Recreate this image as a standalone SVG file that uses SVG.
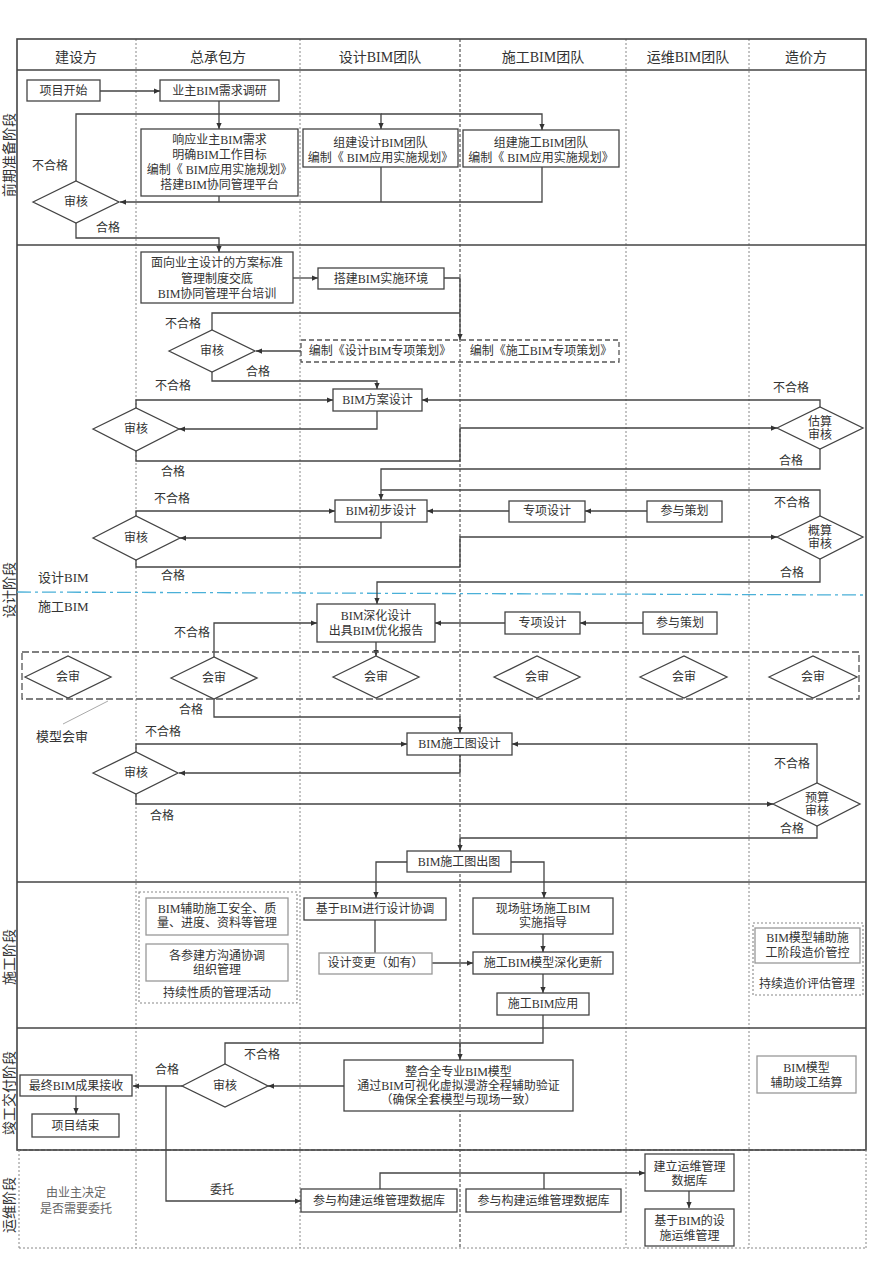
<svg xmlns="http://www.w3.org/2000/svg" width="869" height="1280" viewBox="0 0 869 1280">
<defs>
<marker id="a" viewBox="0 0 8 8" refX="8" refY="4" markerWidth="6" markerHeight="6" orient="auto" markerUnits="userSpaceOnUse"><path d="M0,0.5 L8,4 L0,7.5 z" fill="#333"/></marker>
<style>
text{font-family:"Liberation Serif","Noto Sans CJK SC",serif;fill:#333;font-size:12px;text-anchor:middle}
.h{font-size:14px}
.ph{font-size:14px}
.lb{font-size:12px}
.g{fill:#666}
.b{fill:#fff;stroke:#444;stroke-width:1.3}
.gb{fill:#fff;stroke:#999;stroke-width:1.3}
.db{fill:none;stroke:#555;stroke-width:1.3;stroke-dasharray:5,3}
.fd{fill:none;stroke:#888;stroke-width:1.1;stroke-dasharray:2,2}
.d{fill:#fff;stroke:#444;stroke-width:1.3}
.c path{fill:none;stroke:#444;stroke-width:1.3}
.col{stroke:#888;stroke-width:1;stroke-dasharray:2,2}
.ln{stroke:#444;stroke-width:1.6}
</style>
</defs>
<rect width="869" height="1280" fill="#fff"/>

<g id="frame">
<line class="col" x1="136" y1="39" x2="136" y2="1248"/>
<line class="col" x1="300" y1="39" x2="300" y2="1248"/>
<line x1="460" y1="39" x2="460" y2="1248" stroke="#555" stroke-width="1.2" stroke-dasharray="3,2"/>
<line class="col" x1="626" y1="39" x2="626" y2="1248"/>
<line class="col" x1="749" y1="39" x2="749" y2="1248"/>
<rect x="17" y="39" width="849" height="1111" fill="none" stroke="#444" stroke-width="1.6"/>
<line class="ln" x1="17" y1="70" x2="866" y2="70"/>
<line class="ln" x1="17" y1="245" x2="866" y2="245"/>
<line class="ln" x1="17" y1="882" x2="866" y2="882"/>
<line class="ln" x1="17" y1="1028" x2="866" y2="1028"/>
<line x1="17" y1="1150" x2="866" y2="1150" stroke="#555" stroke-width="1.6" stroke-dasharray="4,2"/>
<line class="col" x1="19" y1="1150" x2="19" y2="1248"/>
<line class="col" x1="866" y1="1150" x2="866" y2="1248"/>
<line class="col" x1="19" y1="1248" x2="866" y2="1248"/>
<line x1="17" y1="592" x2="866" y2="595" stroke="#4ab0d8" stroke-width="1.3" stroke-dasharray="14,4,3,4"/>
</g>

<g id="headers">
<text class="h" x="76" y="62">建设方</text>
<text class="h" x="218" y="62">总承包方</text>
<text class="h" x="380" y="62">设计BIM团队</text>
<text class="h" x="543" y="62">施工BIM团队</text>
<text class="h" x="688" y="62">运维BIM团队</text>
<text class="h" x="806" y="62">造价方</text>
</g>

<g id="phases">
<text class="ph" transform="translate(14,155) rotate(-90)">前期准备阶段</text>
<text class="ph" transform="translate(14,590) rotate(-90)">设计阶段</text>
<text class="ph" transform="translate(14,957) rotate(-90)">施工阶段</text>
<text class="ph" transform="translate(14,1093) rotate(-90)">竣工交付阶段</text>
<text class="ph" transform="translate(14,1205) rotate(-90)">运维阶段</text>
</g>

<g class="c" id="connectors">
<path d="M100,91 H160" marker-end="url(#a)"/>
<path d="M219,101 V129" marker-end="url(#a)"/>
<path d="M76,181 V114 H381 V129" marker-end="url(#a)"/>
<path d="M381,114 H542 V130" marker-end="url(#a)"/>
<path d="M542,167 V202 H120" marker-end="url(#a)"/>
<path d="M381,167 V202"/>
<path d="M219,196 V202"/>
<path d="M76,223 V238 H219 V252" marker-end="url(#a)"/>
<path d="M293,278 H318" marker-end="url(#a)"/>
<path d="M444,278 H460 V340" marker-end="url(#a)"/>
<path d="M212,330 V313 H460"/>
<path d="M301,351 H256" marker-end="url(#a)"/>
<path d="M212,372 V381 H377 V389" marker-end="url(#a)"/>
<path d="M136,408 V400 H333" marker-end="url(#a)"/>
<path d="M377,411 V429 H179" marker-end="url(#a)"/>
<path d="M136,451 V461 H460 V428 H777" marker-end="url(#a)"/>
<path d="M820,407 V400 H422" marker-end="url(#a)"/>
<path d="M820,449 V469 H381 V500" marker-end="url(#a)"/>
<path d="M820,516 V490 H381"/>
<path d="M509,511 H427" marker-end="url(#a)"/>
<path d="M647,511 H585" marker-end="url(#a)"/>
<path d="M136,516 V511 H335" marker-end="url(#a)"/>
<path d="M381,522 V538 H180" marker-end="url(#a)"/>
<path d="M136,560 V567 H460 V537 H777" marker-end="url(#a)"/>
<path d="M820,559 V582 H377 V604" marker-end="url(#a)"/>
<path d="M643,623 H580" marker-end="url(#a)"/>
<path d="M505,623 H435" marker-end="url(#a)"/>
<path d="M214,657 V623 H317" marker-end="url(#a)"/>
<path d="M376,642 V656" marker-end="url(#a)"/>
<path d="M214,699 V717 H460 V733" marker-end="url(#a)"/>
<path d="M136,752 V744 H407" marker-end="url(#a)"/>
<path d="M460,755 V773 H179" marker-end="url(#a)"/>
<path d="M136,794 V804 H773" marker-end="url(#a)"/>
<path d="M817,783 V744 H512" marker-end="url(#a)"/>
<path d="M817,826 V838 H460 V851" marker-end="url(#a)"/>
<path d="M407,862 H376 V898" marker-end="url(#a)"/>
<path d="M511,862 H544 V898" marker-end="url(#a)"/>
<path d="M375,920 V953"/>
<path d="M432,963 H473" marker-end="url(#a)"/>
<path d="M543,934 V952" marker-end="url(#a)"/>
<path d="M543,974 V993" marker-end="url(#a)"/>
<path d="M225,1064 V1043 H543 V1015"/>
<path d="M460,1043 V1060" marker-end="url(#a)"/>
<path d="M344,1086 H268" marker-end="url(#a)"/>
<path d="M182,1086 H133" marker-end="url(#a)"/>
<path d="M76,1096 V1114" marker-end="url(#a)"/>
<path d="M166,1086 V1201 H301" marker-end="url(#a)"/>
<path d="M380,1189 V1173 H645" marker-end="url(#a)"/>
<path d="M544,1189 V1173"/>
<path d="M689,1191 V1208" marker-end="url(#a)"/>
<path d="M63,724 L108,701" style="stroke:#aaa;stroke-width:1"/>
</g>

<g id="n-start"><rect class="b" x="27" y="80" width="73" height="21"/><text x="63.5" y="95">项目开始</text></g>
<g id="n-survey"><rect class="b" x="160" y="80" width="119" height="21"/><text x="219.5" y="95">业主BIM需求调研</text></g>
<g id="n-respond"><rect class="b" x="141" y="129" width="157" height="67"/><text x="219.5" y="144">响应业主BIM需求<tspan x="219.5" dy="15">明确BIM工作目标</tspan><tspan x="219.5" dy="15">编制《 BIM应用实施规划》</tspan><tspan x="219.5" dy="15">搭建BIM协同管理平台</tspan></text></g>
<g id="n-design-team"><rect class="b" x="303" y="129" width="155" height="38"/><text x="380.5" y="147">组建设计BIM团队<tspan x="380.5" dy="15">编制《 BIM应用实施规划》</tspan></text></g>
<g id="n-build-team"><rect class="b" x="463" y="130" width="156" height="37"/><text x="541" y="147">组建施工BIM团队<tspan x="541" dy="15">编制《 BIM应用实施规划》</tspan></text></g>
<g id="n-review1"><polygon class="d" points="33,202 76,181 119,202 76,223"/><text x="76" y="206">审核</text></g>

<g id="n-standard"><rect class="b" x="141" y="252" width="152" height="51"/><text x="217" y="267">面向业主设计的方案标准<tspan x="217" dy="15.5">管理制度交底</tspan><tspan x="217" dy="15.5">BIM协同管理平台培训</tspan></text></g>
<g id="n-env"><rect class="b" x="318" y="268" width="126" height="21"/><text x="381" y="283">搭建BIM实施环境</text></g>
<g id="n-plan"><rect class="db" x="301" y="340" width="318" height="22"/><text x="380" y="355">编制《设计BIM专项策划》</text><text x="541" y="355">编制《施工BIM专项策划》</text></g>
<g id="n-review2"><polygon class="d" points="169,351 212,330 255,351 212,372"/><text x="212" y="355">审核</text></g>
<g id="n-scheme"><rect class="b" x="333" y="389" width="89" height="22"/><text x="377.5" y="404">BIM方案设计</text></g>
<g id="n-review3"><polygon class="d" points="93,429 136,408 179,429 136,451"/><text x="136" y="433">审核</text></g>
<g id="n-estimate"><polygon class="d" points="777,428 820,407 863,428 820,449"/><text x="820" y="426">估算<tspan x="820" dy="13">审核</tspan></text></g>
<g id="n-prelim"><rect class="b" x="335" y="500" width="92" height="22"/><text x="381" y="515">BIM初步设计</text></g>
<g id="n-special1"><rect class="b" x="509" y="501" width="76" height="21"/><text x="547" y="515">专项设计</text></g>
<g id="n-join1"><rect class="b" x="647" y="501" width="75" height="21"/><text x="684.5" y="515">参与策划</text></g>
<g id="n-review4"><polygon class="d" points="93,538 136,516 180,538 136,560"/><text x="136" y="542">审核</text></g>
<g id="n-budget1"><polygon class="d" points="777,537 820,516 863,537 820,559"/><text x="820" y="535">概算<tspan x="820" dy="13">审核</tspan></text></g>

<g id="n-deep"><rect class="b" x="317" y="604" width="118" height="38"/><text x="376" y="620">BIM深化设计<tspan x="376" dy="15">出具BIM优化报告</tspan></text></g>
<g id="n-special2"><rect class="b" x="505" y="612" width="75" height="22"/><text x="542.5" y="627">专项设计</text></g>
<g id="n-join2"><rect class="b" x="643" y="612" width="74" height="22"/><text x="680" y="627">参与策划</text></g>
<g id="n-joint-review"><rect class="db" x="22" y="652" width="837" height="47" style="stroke-dasharray:7,3"/>
<polygon class="d" points="25,677 68,656 111,677 68,698"/><text x="68" y="681">会审</text>
<polygon class="d" points="171,678 214,657 257,678 214,699"/><text x="214" y="682">会审</text>
<polygon class="d" points="333,677 376,656 419,677 376,698"/><text x="376" y="681">会审</text>
<polygon class="d" points="494,677 537,656 580,677 537,698"/><text x="537" y="681">会审</text>
<polygon class="d" points="640,677 684,656 727,677 684,698"/><text x="684" y="681">会审</text>
<polygon class="d" points="769,677 813,656 857,677 813,698"/><text x="813" y="681">会审</text>
</g>
<g id="n-cd"><rect class="b" x="407" y="733" width="105" height="22"/><text x="459.5" y="748">BIM施工图设计</text></g>
<g id="n-review5"><polygon class="d" points="93,773 136,752 178,773 136,794"/><text x="136" y="777">审核</text></g>
<g id="n-budget2"><polygon class="d" points="773,804 817,783 860,804 817,826"/><text x="817" y="802">预算<tspan x="817" dy="13">审核</tspan></text></g>
<g id="n-cdout"><rect class="b" x="407" y="851" width="104" height="21"/><text x="459" y="866">BIM施工图出图</text></g>

<g id="n-gc-mgmt"><rect class="fd" x="139" y="892" width="158" height="111"/>
<rect class="gb" x="146" y="898" width="142" height="37"/><text x="217" y="913">BIM辅助施工安全、质<tspan x="217" dy="14">量、进度、资料等管理</tspan></text>
<rect class="gb" x="146" y="944" width="142" height="37"/><text x="217" y="960">各参建方沟通协调<tspan x="217" dy="14">组织管理</tspan></text>
<text x="217" y="997">持续性质的管理活动</text></g>
<g id="n-coord"><rect class="b" x="304" y="898" width="142" height="22"/><text x="375" y="913">基于BIM进行设计协调</text></g>
<g id="n-change"><rect class="gb" x="319" y="953" width="113" height="21"/><text x="375.5" y="967">设计变更（如有）</text></g>
<g id="n-site"><rect class="b" x="473" y="898" width="140" height="36"/><text x="543" y="913">现场驻场施工BIM<tspan x="543" dy="14">实施指导</tspan></text></g>
<g id="n-update"><rect class="b" x="473" y="952" width="140" height="22"/><text x="543" y="967">施工BIM模型深化更新</text></g>
<g id="n-apply"><rect class="b" x="497" y="993" width="92" height="22"/><text x="543" y="1008">施工BIM应用</text></g>
<g id="n-cost-ctrl"><rect class="fd" x="753" y="923" width="110" height="72"/>
<rect class="gb" x="755" y="928" width="105" height="35"/><text x="807.5" y="942">BIM模型辅助施<tspan x="807.5" dy="15">工阶段造价管控</tspan></text>
<text x="807" y="988">持续造价评估管理</text></g>

<g id="n-integrate"><rect class="b" x="344" y="1060" width="229" height="51"/><text x="458.5" y="1076">整合全专业BIM模型<tspan x="458.5" dy="14">通过BIM可视化虚拟漫游全程辅助验证</tspan><tspan x="458.5" dy="14">（确保全套模型与现场一致）</tspan></text></g>
<g id="n-review6"><polygon class="d" points="182,1086 225,1064 268,1086 225,1107"/><text x="225" y="1090">审核</text></g>
<g id="n-final"><rect class="b" x="20" y="1075" width="112" height="21"/><text x="76" y="1090">最终BIM成果接收</text></g>
<g id="n-end"><rect class="b" x="32" y="1114" width="87" height="23"/><text x="75.5" y="1130">项目结束</text></g>
<g id="n-settle"><rect class="gb" x="757" y="1056" width="99" height="37"/><text x="806.5" y="1072">BIM模型<tspan x="806.5" dy="15">辅助竣工结算</tspan></text></g>

<g id="n-owner"><text class="g" x="76" y="1197">由业主决定<tspan x="76" dy="16">是否需要委托</tspan></text></g>
<g id="n-db1"><rect class="b" x="301" y="1189" width="156" height="23"/><text x="379" y="1205">参与构建运维管理数据库</text></g>
<g id="n-db2"><rect class="b" x="466" y="1189" width="155" height="23"/><text x="543.5" y="1205">参与构建运维管理数据库</text></g>
<g id="n-db"><rect class="b" x="645" y="1154" width="89" height="37"/><text x="689.5" y="1171">建立运维管理<tspan x="689.5" dy="14">数据库</tspan></text></g>
<g id="n-om"><rect class="b" x="645" y="1209" width="89" height="37"/><text x="689.5" y="1225">基于BIM的设<tspan x="689.5" dy="15">施运维管理</tspan></text></g>

<g id="labels">
<text x="50" y="170">不合格</text><text x="108" y="232">合格</text>
<text x="183" y="328">不合格</text><text x="258" y="376">合格</text>
<text x="173" y="390">不合格</text><text x="173" y="476">合格</text>
<text x="791" y="392">不合格</text><text x="791" y="465">合格</text>
<text x="172" y="503">不合格</text><text x="173" y="580">合格</text>
<text x="792" y="507">不合格</text><text x="792" y="577">合格</text>
<text x="38" y="582" style="text-anchor:start;font-size:13px">设计BIM</text>
<text x="38" y="611" style="text-anchor:start;font-size:13px">施工BIM</text>
<text x="192" y="637">不合格</text>
<text x="191" y="714">合格</text>
<text x="62" y="741" style="font-size:13px">模型会审</text>
<text x="163" y="736">不合格</text><text x="162" y="820">合格</text>
<text x="792" y="768">不合格</text><text x="792" y="833">合格</text>
<text x="262" y="1059">不合格</text><text x="167" y="1074">合格</text>
<text x="222" y="1194">委托</text>
</g>
</svg>
